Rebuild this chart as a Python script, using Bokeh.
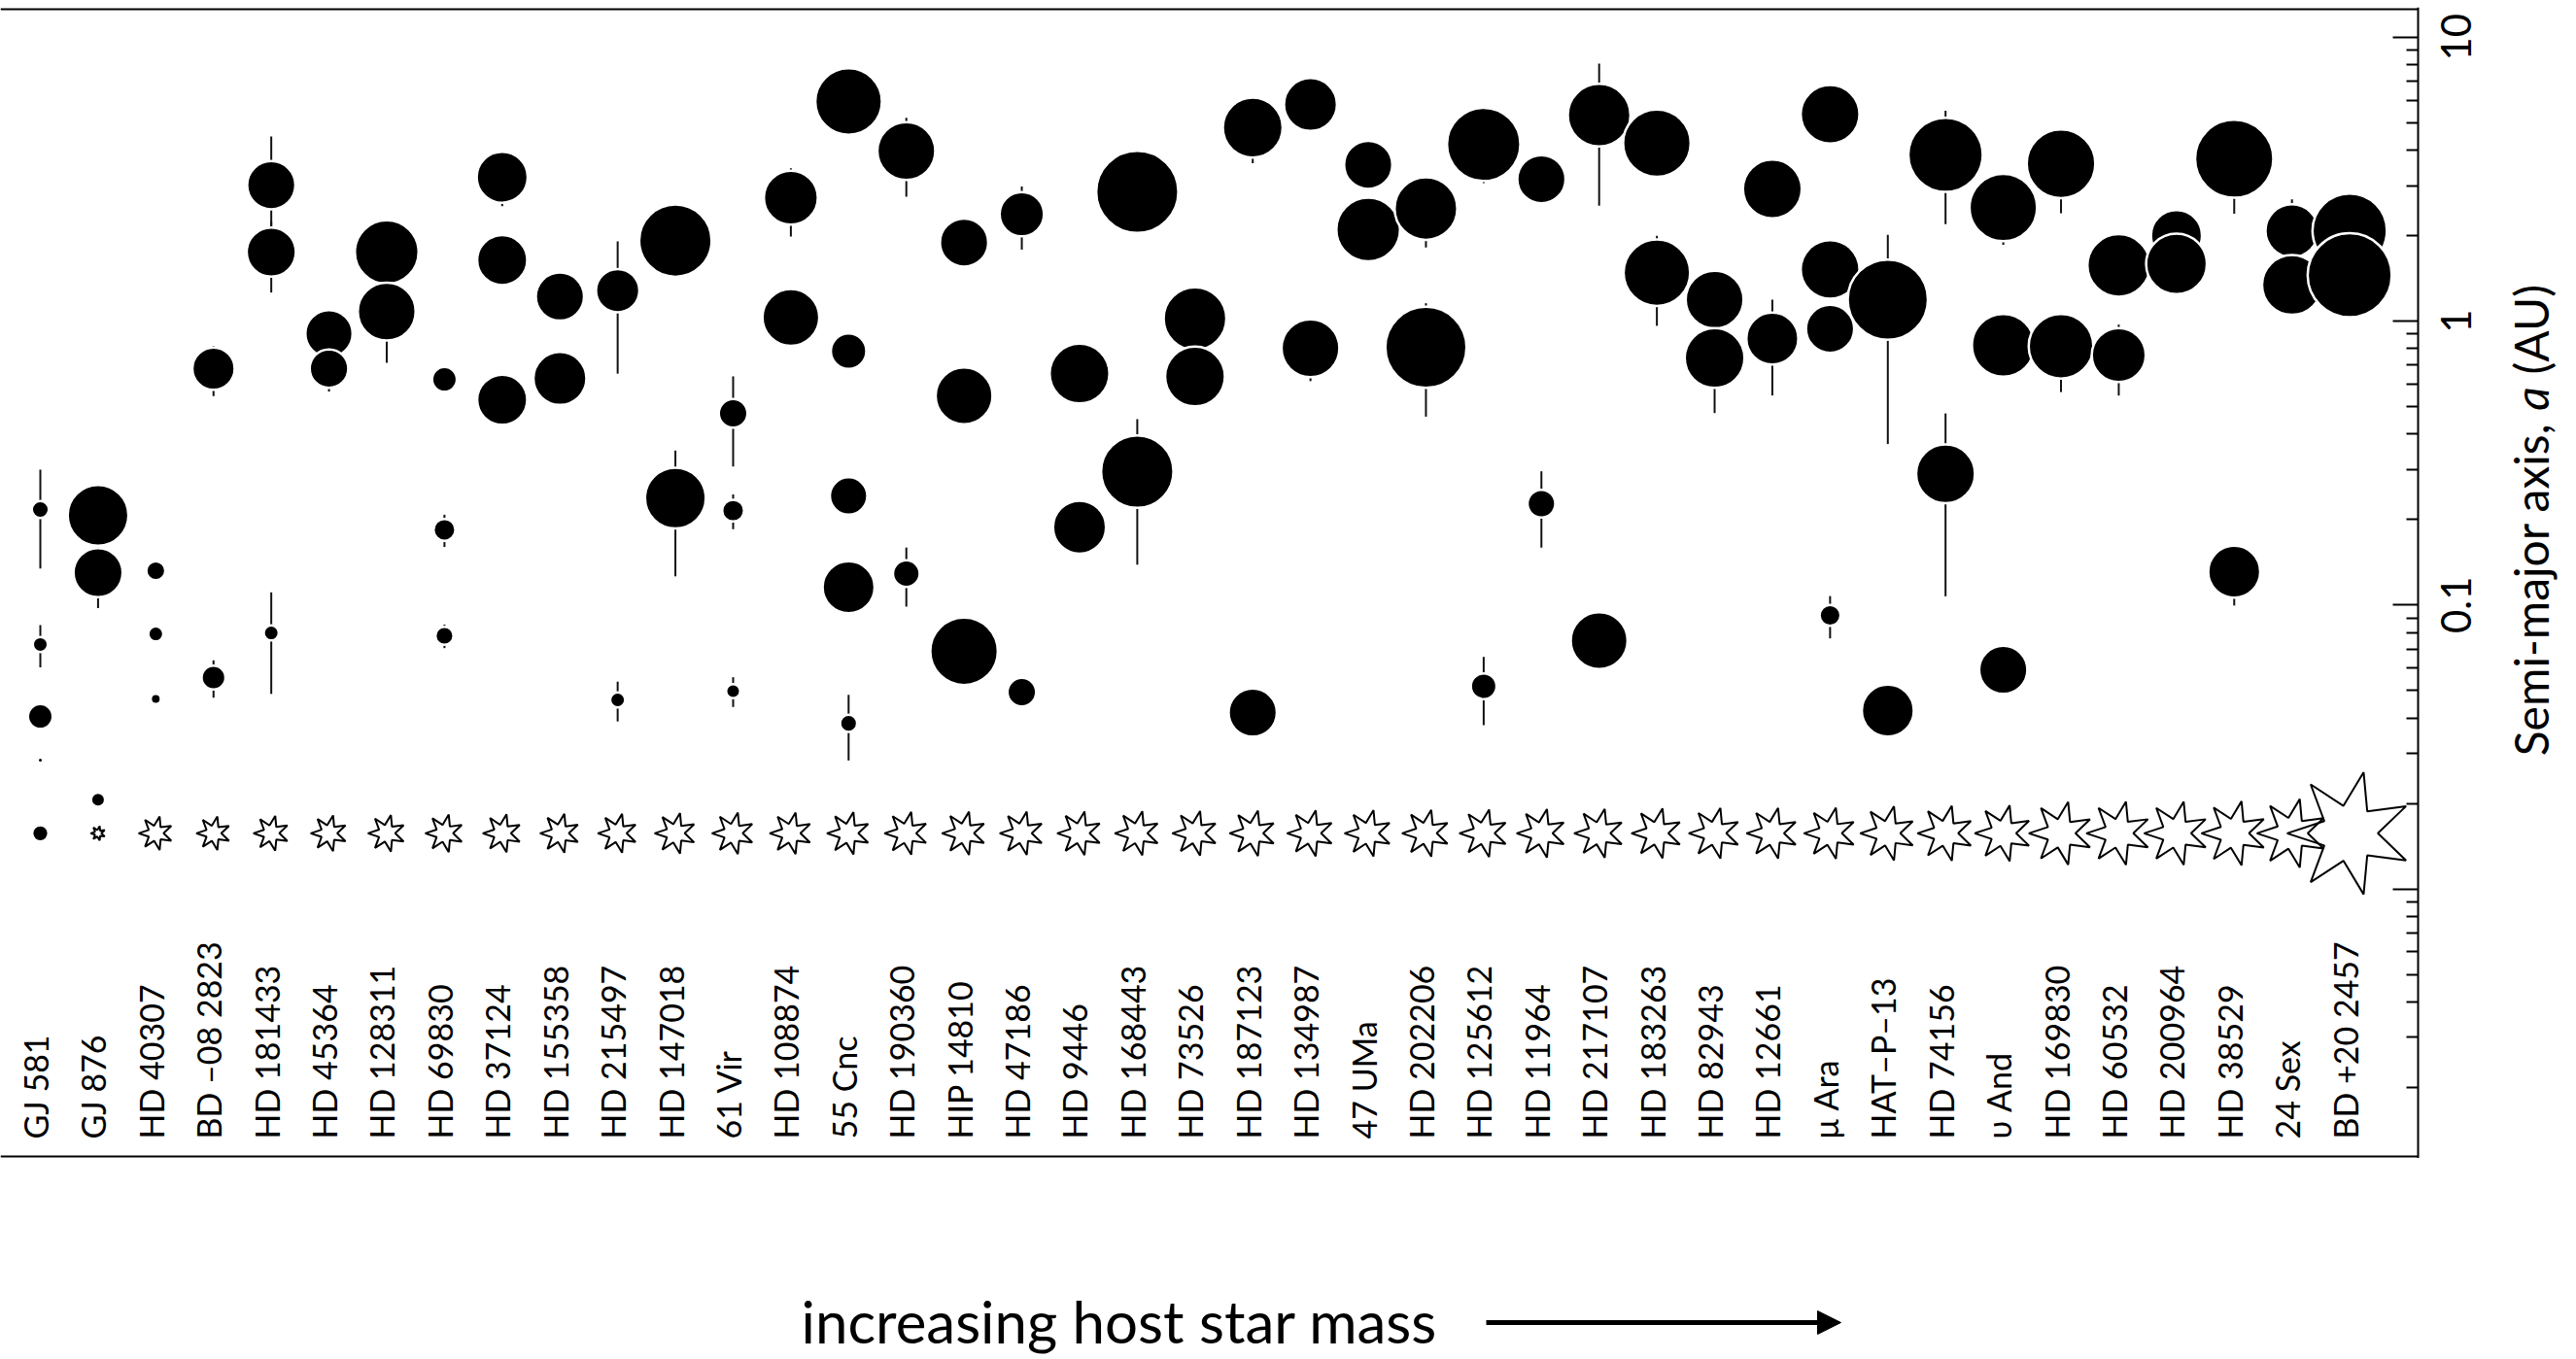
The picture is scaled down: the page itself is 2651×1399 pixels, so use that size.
import math
from bokeh.plotting import figure
from bokeh.models import Range1d, FixedTicker, LogAxis, Arrow, NormalHead, ColumnDataSource
from bokeh.layouts import column
from bokeh.embed import file_html
from bokeh.resources import INLINE
from bokeh.core.properties import value

# ---------------- data ----------------
star_names = ["GJ 581", "GJ 876", "HD 40307", "BD –08 2823", "HD 181433", "HD 45364",
              "HD 128311", "HD 69830", "HD 37124", "HD 155358", "HD 215497", "HD 147018",
              "61 Vir", "HD 108874", "55 Cnc", "HD 190360", "HIP 14810", "HD 47186",
              "HD 9446", "HD 168443", "HD 73526", "HD 187123", "HD 134987", "47 UMa",
              "HD 202206", "HD 125612", "HD 11964", "HD 217107", "HD 183263", "HD 82943",
              "HD 12661", "μ Ara", "HAT–P–13", "HD 74156", "υ And", "HD 169830",
              "HD 60532", "HD 200964", "HD 38529", "24 Sex", "BD +20 2457"]
star_mass = [0.31, 0.33, 0.77, 0.77, 0.80, 0.82, 0.84, 0.86, 0.87, 0.89, 0.89, 0.93,
             0.95, 0.95, 0.97, 0.98, 0.99, 0.99, 1.00, 1.01, 1.02, 1.04, 1.05, 1.06,
             1.07, 1.09, 1.11, 1.12, 1.14, 1.16, 1.16, 1.17, 1.24, 1.26, 1.28, 1.44,
             1.45, 1.45, 1.47, 1.57, 2.80]

planet_host = ["GJ 581", "GJ 581", "GJ 581", "GJ 581",
               "GJ 876", "GJ 876", "GJ 876",
               "HD 40307", "HD 40307", "HD 40307",
               "BD –08 2823", "BD –08 2823",
               "HD 181433", "HD 181433", "HD 181433",
               "HD 45364", "HD 45364",
               "HD 128311", "HD 128311",
               "HD 69830", "HD 69830", "HD 69830",
               "HD 37124", "HD 37124", "HD 37124",
               "HD 155358", "HD 155358",
               "HD 215497", "HD 215497",
               "HD 147018", "HD 147018",
               "61 Vir", "61 Vir", "61 Vir",
               "HD 108874", "HD 108874",
               "55 Cnc", "55 Cnc", "55 Cnc", "55 Cnc", "55 Cnc",
               "HD 190360", "HD 190360",
               "HIP 14810", "HIP 14810", "HIP 14810",
               "HD 47186", "HD 47186",
               "HD 9446", "HD 9446",
               "HD 168443", "HD 168443",
               "HD 73526", "HD 73526",
               "HD 187123", "HD 187123",
               "HD 134987", "HD 134987",
               "47 UMa", "47 UMa",
               "HD 202206", "HD 202206",
               "HD 125612", "HD 125612",
               "HD 11964", "HD 11964",
               "HD 217107", "HD 217107",
               "HD 183263", "HD 183263",
               "HD 82943", "HD 82943",
               "HD 12661", "HD 12661",
               "μ Ara", "μ Ara", "μ Ara", "μ Ara",
               "HAT–P–13", "HAT–P–13",
               "HD 74156", "HD 74156",
               "υ And", "υ And", "υ And",
               "HD 169830", "HD 169830",
               "HD 60532", "HD 60532",
               "HD 200964", "HD 200964",
               "HD 38529", "HD 38529",
               "24 Sex", "24 Sex",
               "BD +20 2457", "BD +20 2457"]
# semi-major axis (AU)
planet_a = [0.217, 0.0726, 0.0405, 0.0284,
            0.207, 0.130, 0.0206,
            0.132, 0.0791, 0.0467,
            0.680, 0.0555,
            3.01, 1.75, 0.0797,
            0.903, 0.680,
            1.75, 1.08,
            0.623, 0.184, 0.0779,
            3.21, 1.64, 0.528,
            1.22, 0.628,
            1.28, 0.0463,
            1.92, 0.238,
            0.473, 0.215, 0.0497,
            2.72, 1.03,
            5.93, 0.783, 0.242, 0.1155, 0.0383,
            3.97, 0.129,
            1.89, 0.545, 0.0687,
            2.38, 0.0493,
            0.653, 0.188,
            2.85, 0.295,
            1.02, 0.638,
            4.80, 0.0418,
            5.79, 0.802,
            3.55, 2.10,
            2.49, 0.808,
            4.19, 0.0517,
            3.16, 0.2275,
            5.31, 0.0749,
            4.23, 1.48,
            1.19, 0.741,
            2.92, 0.868,
            5.35, 1.52, 0.939, 0.0919,
            1.19, 0.0425,
            3.85, 0.290,
            2.51, 0.821, 0.0591,
            3.58, 0.815,
            1.57, 0.759,
            2.00, 1.59,
            3.73, 0.131,
            2.08, 1.34,
            2.08, 1.45]
planet_mass = [0.027, 0.022, 0.059, 0.0082,
               2.29, 0.70, 0.020,
               0.033, 0.022, 0.0134,
               0.35, 0.054,
               0.64, 0.70, 0.022,
               0.58, 0.24,
               3.09, 1.71,
               0.059, 0.044, 0.030,
               0.85, 0.77, 0.77,
               0.64, 1.04,
               0.39, 0.022,
               7.5, 2.29,
               0.088, 0.044, 0.020,
               1.15, 1.54,
               4.15, 0.176, 0.214, 0.94, 0.027,
               1.71, 0.072,
               0.64, 1.54, 4.58,
               0.43, 0.088,
               2.08, 1.04,
               20.2, 7.5,
               2.79, 2.08,
               2.08, 0.64,
               1.04, 1.71,
               0.64, 3.09,
               2.79, 18.3,
               8.3, 0.065,
               0.64, 0.080,
               2.79, 1.54,
               4.58, 4.15,
               1.71, 2.08,
               1.88, 0.94,
               1.88, 1.88, 0.64, 0.040,
               16.6, 0.94,
               9.2, 1.88,
               4.58, 2.79, 0.64,
               5.1, 3.41,
               2.79, 1.15,
               0.85, 2.29,
               13.6, 0.94,
               1.04, 2.08,
               9.2, 24.6]
# orbital eccentricity (bars span periastron to apastron)
planet_ecc = [0.38, 0.17, 0.0, 0.0,
              0.0, 0.25, 0.0,
              0.0, 0.0, 0.0,
              0.20, 0.15,
              0.485, 0.28, 0.39,
              0.10, 0.17,
              0.17, 0.34,
              0.07, 0.13, 0.095,
              0.21, 0.13, 0.05,
              0.15, 0.11,
              0.49, 0.16,
              0.13, 0.47,
              0.35, 0.14, 0.12,
              0.27, 0.07,
              0.03, 0.0, 0.05, 0.01, 0.26,
              0.31, 0.235,
              0.16, 0.16, 0.14,
              0.25, 0.04,
              0.06, 0.20,
              0.21, 0.53,
              0.14, 0.19,
              0.25, 0.01,
              0.12, 0.234,
              0.10, 0.03,
              0.27, 0.43,
              0.27, 0.27,
              0.04, 0.30,
              0.52, 0.13,
              0.20, 0.35,
              0.18, 0.36,
              0.03, 0.37,
              0.10, 0.13, 0.07, 0.17,
              0.69, 0.01,
              0.43, 0.63,
              0.26, 0.22, 0.01,
              0.33, 0.31,
              0.02, 0.28,
              0.04, 0.04,
              0.36, 0.24,
              0.29, 0.09,
              0.18, 0.15]

axis_ticks = [0.01, 0.1, 1, 10]
label_ticks = [0.1, 1, 10]
label_texts = ["0.1", "1", "10"]

# ---------------- layout constants (canvas pixels) ----------------
CANVAS_W = 2651
FRAME_TOP, FRAME_BOT = 7, 1192          # frame edges
LINE_TOP, LINE_BOT = 9, 1190            # drawn box lines
AXIS_PX = 2488                          # right axis position
ONE_PX, DEC_PX = 330.0, 292.3           # a=1 AU position, px per decade
X0_PX, COL_PX = 41.0, 59.415            # first column, column spacing
STAR_ROW = 0.0157                       # a-position of the star symbol row
STAR_PX_PER_MSUN = 23.0

x_start = -X0_PX / COL_PX
x_end = x_start + CANVAS_W / COL_PX


def px_to_x(px):
    return x_start + px / COL_PX


def py_to_y(py):
    return 10 ** ((ONE_PX - py) / DEC_PX)


Y_TOP, Y_BOT = py_to_y(FRAME_TOP), py_to_y(FRAME_BOT)

p = figure(frame_width=CANVAS_W, frame_height=FRAME_BOT - FRAME_TOP,
           x_range=Range1d(x_start, x_end), y_range=Range1d(Y_BOT, Y_TOP),
           y_axis_type="log", y_axis_location=None, x_axis_location=None,
           output_backend="svg", toolbar_location=None,
           min_border_left=0, min_border_top=FRAME_TOP, min_border_bottom=0, min_border_right=0)
p.outline_line_color = None
p.grid.visible = False
p.background_fill_color = "white"
p.border_fill_color = "white"

# right axis at the plot box edge
ax_x = px_to_x(AXIS_PX)
minor = [k * 10.0 ** n for n in range(-3, 2) for k in range(2, 10)]
ax = LogAxis(fixed_location=ax_x, ticker=FixedTicker(ticks=axis_ticks, minor_ticks=minor))
ax.major_label_overrides = {float(t): "" for t in axis_ticks}
ax.major_label_text_font_size = "0px"
ax.major_tick_in = 26
ax.major_tick_out = 0
ax.minor_tick_in = 12
ax.minor_tick_out = 0
ax.major_tick_line_width = 2
ax.minor_tick_line_width = 2
ax.axis_line_width = 2
ax.major_tick_line_color = "black"
ax.minor_tick_line_color = "black"
ax.axis_line_color = "black"
p.add_layout(ax, "right")

# top and bottom lines of the box
p.segment(x0=[x_start, x_start], y0=[py_to_y(LINE_TOP), py_to_y(LINE_BOT)],
          x1=[ax_x, ax_x], y1=[py_to_y(LINE_TOP), py_to_y(LINE_BOT)],
          line_color="black", line_width=2)

# tick labels
p.text(x=[px_to_x(2527)] * len(label_ticks), y=label_ticks, text=label_texts,
       angle=math.pi / 2, text_align="center", text_baseline="middle",
       text_font=value("Lato"), text_font_size="42px", text_color="black")

# axis title (with italic a), built from three pieces around the italic letter
TFS = 48.0
tx = px_to_x(2604)
ts = dict(angle=math.pi / 2, text_baseline="middle", text_font=value("Lato"),
          text_font_size=f"{TFS:.0f}px", text_color="black")
a_mid = 410.0
gap = 0.26 * TFS + 0.26 * TFS
p.text(x=[tx], y=[py_to_y(a_mid + gap)], text=["Semi-major axis,"], text_align="right", **ts)
p.text(x=[tx], y=[py_to_y(a_mid)], text=["a"], text_align="center", text_font_style="italic", **ts)
p.text(x=[tx], y=[py_to_y(a_mid - gap)], text=["(AU)"], text_align="left", **ts)

# host stars: seven-pointed stars sized by stellar mass (tiny ones drawn as dots)
star_index = {n: i for i, n in enumerate(star_names)}
sxs, sys_ = [], []
dot_x, dot_size = [], []
for i, m in enumerate(star_mass):
    R = STAR_PX_PER_MSUN * m
    if R < 7.3:
        dot_x.append(i)
        dot_size.append(2 * R)
        continue
    r = 0.45 * R
    vx, vy = [], []
    for k in range(14):
        ang = math.pi + k * math.pi / 7
        rad = R if k % 2 == 0 else r
        vx.append(i + rad * math.cos(ang) / COL_PX)
        vy.append(10 ** (math.log10(STAR_ROW) + rad * math.sin(ang) / DEC_PX))
    sxs.append(vx)
    sys_.append(vy)
p.patches(xs=sxs, ys=sys_, fill_color=None, line_color="black", line_width=2)
p.scatter(x=dot_x, y=[STAR_ROW] * len(dot_x), size=dot_size, marker="circle",
          fill_color="black", line_color=None)

# planets: eccentricity bars then circles
px = [star_index[h] for h in planet_host]
bx, b0, b1 = [], [], []
for x, a, e in zip(px, planet_a, planet_ecc):
    if e > 0:
        bx.append(x)
        b0.append(a * (1 - e))
        b1.append(a * (1 + e))
p.segment(x0=bx, y0=b0, x1=bx, y1=b1, line_color="#111111", line_width=2)

sizes = [max(3.0, 51.6 + 23.3 * math.log10(m)) + 2.5 for m in planet_mass]
p.scatter(x=px, y=planet_a, size=sizes, marker="circle",
          fill_color="black", line_color="white", line_width=2.5)

# star names
p.text(x=list(range(len(star_names))), y=[py_to_y(1172)] * len(star_names), text=star_names,
       angle=math.pi / 2, text_align="left", text_baseline="middle",
       text_font=value("Lato"), text_font_size="34px", text_color="black",
       x_offset=-5)

# caption below
CAP_H = 1399 - FRAME_BOT
p2 = figure(frame_width=CANVAS_W, frame_height=CAP_H, x_range=Range1d(0, CANVAS_W),
            y_range=Range1d(0, CAP_H),
            x_axis_location=None, y_axis_location=None, output_backend="svg", toolbar_location=None,
            min_border_left=0, min_border_right=0, min_border_top=0, min_border_bottom=0)
p2.outline_line_color = None
p2.grid.visible = False
p2.text(x=[824], y=[1399 - 1359], text=["increasing host star mass"], text_align="left",
        text_baseline="middle", text_font=value("Lato"), text_font_size="60px",
        text_color="black")
p2.add_layout(Arrow(x_start=1529, y_start=1399 - 1361, x_end=1894, y_end=1399 - 1361,
                    line_width=5, line_color="black",
                    end=NormalHead(size=24, fill_color="black", line_color="black")))

layout = column(p, p2)
open("out.html", "w").write(file_html(layout, INLINE))
